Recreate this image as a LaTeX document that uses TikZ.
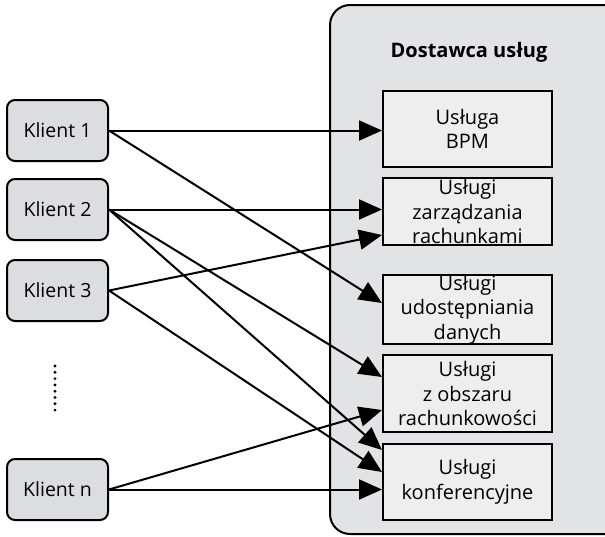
\documentclass[tikz,border=0pt]{standalone}
\usepackage{fontspec}
\setmainfont{Open Sans}
\usetikzlibrary{arrows.meta}
\definecolor{contfill}{HTML}{E2E3E5}
\definecolor{svcfill}{HTML}{EEEEEE}
\definecolor{clifill}{HTML}{DCDDE0}
\begin{document}
\begin{tikzpicture}[x=1pt,y=-1pt,
  client/.style={draw=black, line width=2pt, fill=clifill, rounded corners=8pt,
    minimum width=101pt, minimum height=61pt, font=\fontsize{19.5}{22}\selectfont, inner sep=0pt},
  svc/.style={draw=black, line width=2pt, fill=svcfill, minimum width=169pt,
    align=center, font=\fontsize{20}{24.5}\selectfont, inner sep=0pt},
  link/.style={line width=2pt, -{Triangle[length=23pt,width=20pt]}}]
\useasboundingbox (0,0) rectangle (605,536);
\clip (0,0) rectangle (605,536);
\fill[white] (0,0) rectangle (605,536);
% container
\draw[line width=2pt, fill=contfill, rounded corners=20pt] (330,5) rectangle (625,534);
\node[font=\bfseries\fontsize{20}{22}\selectfont] (title) at (469,52) {Dostawca usług};
% services
\node[svc, minimum height=76pt] (s1) at (467.5,129) {Usługa\\BPM};
\node[svc, minimum height=67pt] (s2) at (467.5,211.5) {Usługi\\zarządzania\\rachunkami};
\node[svc, minimum height=65pt] (s3) at (467.5,309.5) {Usługi\\udostępniania\\danych};
\node[svc, minimum height=77pt] (s4) at (467.5,393.5) {Usługi\\z obszaru\\rachunkowości};
\node[svc, minimum height=76pt] (s5) at (467.5,482) {Usługi\\konferencyjne};
% clients
\node[client] (k1) at (57.5,130.5) {Klient 1};
\node[client] (k2) at (57.5,209.5) {Klient 2};
\node[client] (k3) at (57.5,290.5) {Klient 3};
\node[client] (kn) at (57.5,489.5) {Klient n};
\foreach \i in {0,...,7} \fill (55,366+\i*6.3) circle (1.6pt);
% links
\draw[link] (k1.east) -- (s1.west |- k1.east);
\draw[link] (k1.east) -- ([yshift=6.5pt]s3.west);
\draw[link] (k2.east) -- (s2.west |- k2.east);
\draw[link] (k3.east) -- ([yshift=-23.5pt]s2.west);
\draw[link] (k2.east) -- ([yshift=16.5pt]s4.west);
\draw[link] (k2.east) -- ([yshift=32pt]s5.west);
\draw[link] (k3.east) -- ([yshift=10pt]s5.west);
\draw[link] (kn.east) -- ([yshift=-16.5pt]s4.west);
\draw[link] (kn.east) -- (s5.west |- kn.east);
\end{tikzpicture}
\end{document}
